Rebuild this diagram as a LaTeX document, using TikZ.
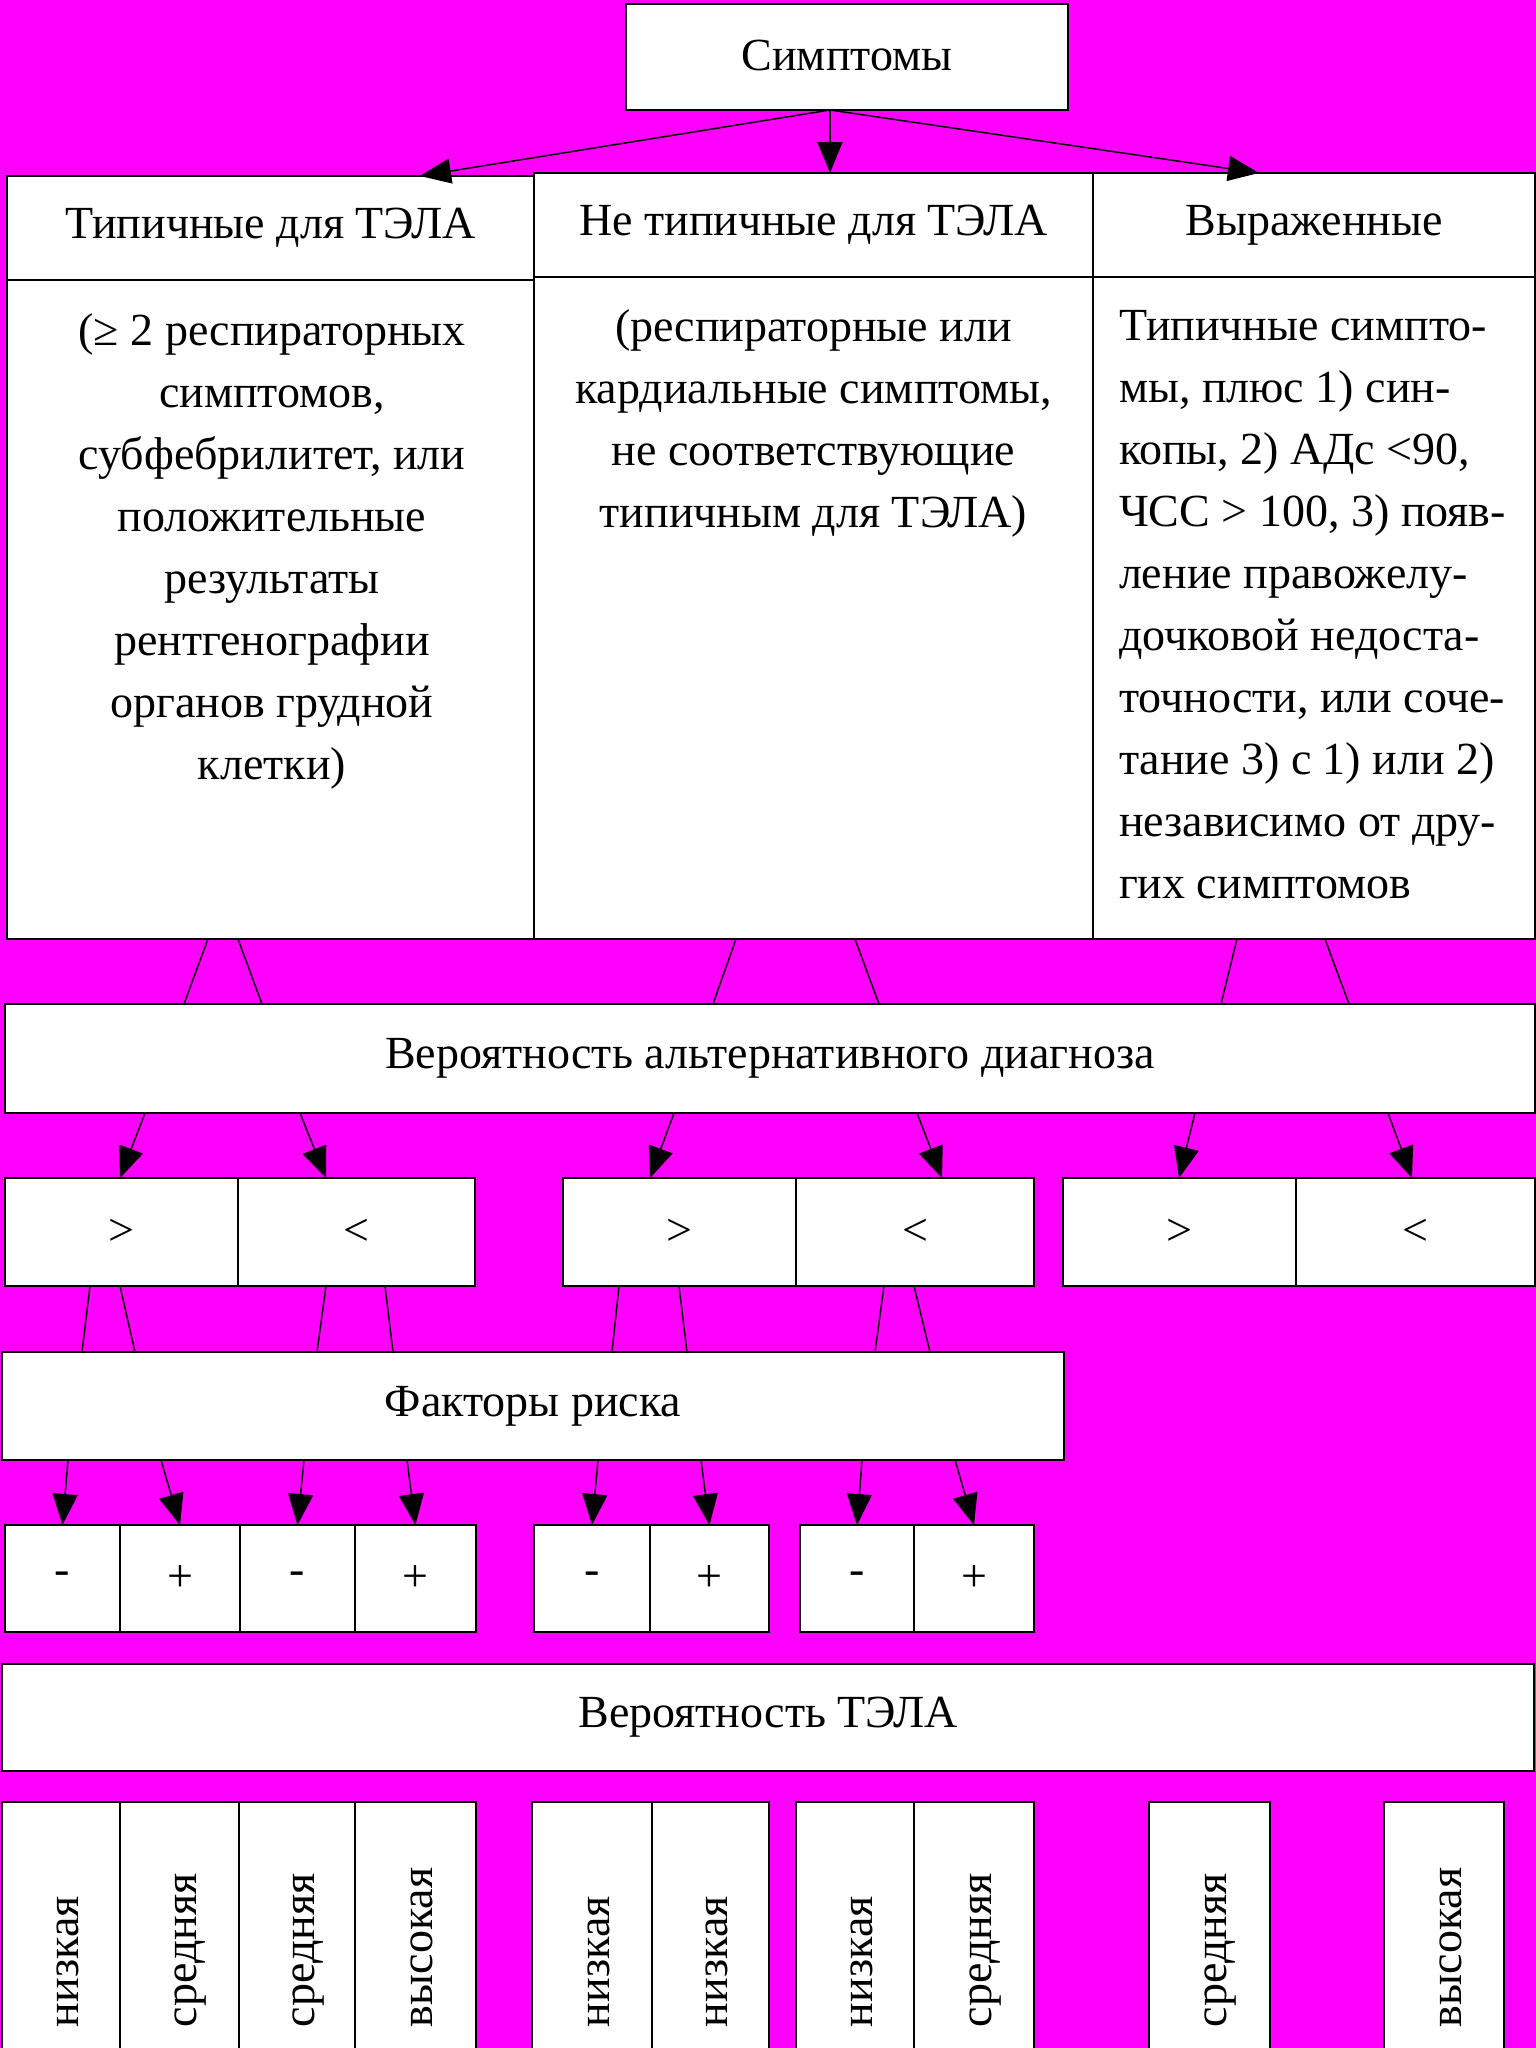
\documentclass[tikz,border=0pt]{standalone}
\usepackage{fontspec}
\setmainfont{Liberation Serif}
\usetikzlibrary{arrows.meta}
\definecolor{bgmag}{RGB}{255,0,255}
\begin{document}
\begin{tikzpicture}[x=1pt,y=-1pt,
  box/.style={draw=black, fill=white, line width=2.5pt, inner sep=0pt, outer sep=0pt, font=\fontsize{46}{62}\selectfont},
  lbl/.style={font=\fontsize{46}{62}\selectfont, inner sep=0pt, outer sep=0pt},
  conn/.style={line width=1.5pt},
  arr/.style={line width=1.5pt, -{Triangle[length=31pt,width=25pt]}}
]
\fill[bgmag] (0,0) rectangle (1536,2048);
\useasboundingbox (0,0) rectangle (1536,2048);
\clip (0,0) rectangle (1536,2048);

% top
\node[box, minimum width=442pt, minimum height=106pt] (sym) at (847,57) {\raisebox{3pt}{Симптомы}};

\node[box, minimum width=527pt, minimum height=104pt] (typH) at (270.5,228) {Типичные для ТЭЛА};
\node[box, minimum width=527pt, minimum height=659pt] (typB) at (270.5,609.5) {};
\node[box, minimum width=559pt, minimum height=104pt] (ntH) at (813.5,225) {Не типичные для ТЭЛА};
\node[box, minimum width=559pt, minimum height=662pt] (ntB) at (813.5,608) {};
\node[box, minimum width=442pt, minimum height=104pt] (vyH) at (1314,225) {Выраженные};
\node[box, minimum width=442pt, minimum height=662pt] (vyB) at (1314,608) {};

\node[lbl, anchor=north, align=center] (typT) at (272,301.6) {\strut(≥ 2 респираторных\\симптомов,\\субфебрилитет, или\\положительные\\результаты\\рентгенографии\\органов грудной\\клетки)};
\node[lbl, anchor=north, align=center] (ntT) at (813.5,297.6) {\strut(респираторные или\\кардиальные симптомы,\\не соответствующие\\типичным для ТЭЛА)};
\node[lbl, anchor=north west, align=left] (vyT) at (1119,296.6) {\strut Типичные симпто-\\мы, плюс 1) син-\\копы, 2) АДс <90,\\ЧСС > 100, 3) появ-\\ление правожелу-\\дочковой недоста-\\точности, или соче-\\тание 3) с 1) или 2)\\независимо от дру-\\гих симптомов};

\draw[arr] ([xshift=-17pt]sym.south) -- ([xshift=149.5pt]typH.north);
\draw[arr] ([xshift=-17pt]sym.south) -- ([xshift=16.5pt]ntH.north);
\draw[arr] ([xshift=-17pt]sym.south) -- ([xshift=-55pt]vyH.north);

% alternative diagnosis
\node[box, minimum width=1530pt, minimum height=109pt] (alt) at (770,1058.5) {Вероятность альтернативного диагноза};

\draw[conn] ([xshift=-62.5pt]typB.south) -- ([xshift=-586pt]alt.north);
\draw[conn] ([xshift=-32.5pt]typB.south) -- ([xshift=-508pt]alt.north);
\draw[conn] ([xshift=-77.5pt]ntB.south) -- ([xshift=-57pt]alt.north);
\draw[conn] ([xshift=41.5pt]ntB.south) -- ([xshift=109pt]alt.north);
\draw[conn] ([xshift=-77pt]vyB.south) -- ([xshift=451pt]alt.north);
\draw[conn] ([xshift=11pt]vyB.south) -- ([xshift=579pt]alt.north);

% > < cells
\node[box, minimum width=233pt, minimum height=108pt] (g1a) at (121.5,1232) {>};
\node[box, minimum width=237pt, minimum height=108pt] (g1b) at (356.5,1232) {<};
\node[box, minimum width=233pt, minimum height=108pt] (g2a) at (679.5,1232) {>};
\node[box, minimum width=238pt, minimum height=108pt] (g2b) at (915,1232) {<};
\node[box, minimum width=233pt, minimum height=108pt] (g3a) at (1179.5,1232) {>};
\node[box, minimum width=239pt, minimum height=108pt] (g3b) at (1415.5,1232) {<};

\draw[arr] ([xshift=-625pt]alt.south) -- ([xshift=-1.5pt]g1a.north);
\draw[arr] ([xshift=-470pt]alt.south) -- ([xshift=-30.5pt]g1b.north);
\draw[arr] ([xshift=-96pt]alt.south) -- ([xshift=-29.5pt]g2a.north);
\draw[arr] ([xshift=147pt]alt.south) -- ([xshift=27pt]g2b.north);
\draw[arr] ([xshift=425pt]alt.south) -- ([xshift=-0.5pt]g3a.north);
\draw[arr] ([xshift=618pt]alt.south) -- ([xshift=-3.5pt]g3b.north);

% risk factors
\node[box, minimum width=1062pt, minimum height=108pt] (fr) at (533,1406) {Факторы риска};

\draw[conn] ([xshift=-31.5pt]g1a.south) -- ([xshift=-451pt]fr.north);
\draw[conn] ([xshift=-1.5pt]g1a.south) -- ([xshift=-398pt]fr.north);
\draw[conn] ([xshift=-30.5pt]g1b.south) -- ([xshift=-216pt]fr.north);
\draw[conn] ([xshift=28.5pt]g1b.south) -- ([xshift=-140pt]fr.north);
\draw[conn] ([xshift=-60.5pt]g2a.south) -- ([xshift=79pt]fr.north);
\draw[conn] ([xshift=-0.5pt]g2a.south) -- ([xshift=154pt]fr.north);
\draw[conn] ([xshift=-31pt]g2b.south) -- ([xshift=342pt]fr.north);
\draw[conn] ([xshift=-1pt]g2b.south) -- ([xshift=397pt]fr.north);

% - + cells
\node[box, minimum width=115pt, minimum height=107pt] (p1) at (62.5,1578.5) {\raisebox{-5pt}{-}};
\node[box, minimum width=120pt, minimum height=107pt] (p2) at (180,1578.5) {+};
\node[box, minimum width=115pt, minimum height=107pt] (p3) at (297.5,1578.5) {\raisebox{-5pt}{-}};
\node[box, minimum width=121pt, minimum height=107pt] (p4) at (415.5,1578.5) {+};
\node[box, minimum width=116pt, minimum height=107pt] (p5) at (592,1578.5) {\raisebox{-5pt}{-}};
\node[box, minimum width=119pt, minimum height=107pt] (p6) at (709.5,1578.5) {+};
\node[box, minimum width=114pt, minimum height=107pt] (p7) at (857,1578.5) {\raisebox{-5pt}{-}};
\node[box, minimum width=120pt, minimum height=107pt] (p8) at (974,1578.5) {+};

\draw[arr] ([xshift=-465pt]fr.south) -- (p1.north);
\draw[arr] ([xshift=-372pt]fr.south) -- (p2.north);
\draw[arr] ([xshift=-229pt]fr.south) -- (p3.north);
\draw[arr] ([xshift=-126pt]fr.south) -- (p4.north);
\draw[arr] ([xshift=65pt]fr.south) -- (p5.north);
\draw[arr] ([xshift=168pt]fr.south) -- (p6.north);
\draw[arr] ([xshift=329pt]fr.south) -- (p7.north);
\draw[arr] ([xshift=422pt]fr.south) -- (p8.north);

% probability of PE
\node[box, minimum width=1532pt, minimum height=107pt] (vt) at (768,1717.5) {Вероятность ТЭЛА};

% bottom cells
\node[box, minimum width=118pt, minimum height=268pt] (b1) at (61,1936) {};
\node[box, minimum width=119pt, minimum height=268pt] (b2) at (179.5,1936) {};
\node[box, minimum width=116pt, minimum height=268pt] (b3) at (297,1936) {};
\node[box, minimum width=121pt, minimum height=268pt] (b4) at (415.5,1936) {};
\node[box, minimum width=120pt, minimum height=268pt] (b5) at (592,1936) {};
\node[box, minimum width=117pt, minimum height=268pt] (b6) at (710.5,1936) {};
\node[box, minimum width=118pt, minimum height=268pt] (b7) at (855,1936) {};
\node[box, minimum width=120pt, minimum height=268pt] (b8) at (974,1936) {};
\node[box, minimum width=121pt, minimum height=268pt] (b9) at (1209.5,1936) {};
\node[box, minimum width=120pt, minimum height=268pt] (b10) at (1444,1936) {};

\node[lbl, rotate=90, anchor=base west] (t1) at (78,2027) {низкая};
\node[lbl, rotate=90, anchor=base west] (t2) at (196.5,2027) {средняя};
\node[lbl, rotate=90, anchor=base west] (t3) at (314,2027) {средняя};
\node[lbl, rotate=90, anchor=base west] (t4) at (432.5,2027) {высокая};
\node[lbl, rotate=90, anchor=base west] (t5) at (609,2027) {низкая};
\node[lbl, rotate=90, anchor=base west] (t6) at (727.5,2027) {низкая};
\node[lbl, rotate=90, anchor=base west] (t7) at (872,2027) {низкая};
\node[lbl, rotate=90, anchor=base west] (t8) at (991,2027) {средняя};
\node[lbl, rotate=90, anchor=base west] (t9) at (1226.5,2027) {средняя};
\node[lbl, rotate=90, anchor=base west] (t10) at (1461,2027) {высокая};
\end{tikzpicture}
\end{document}
